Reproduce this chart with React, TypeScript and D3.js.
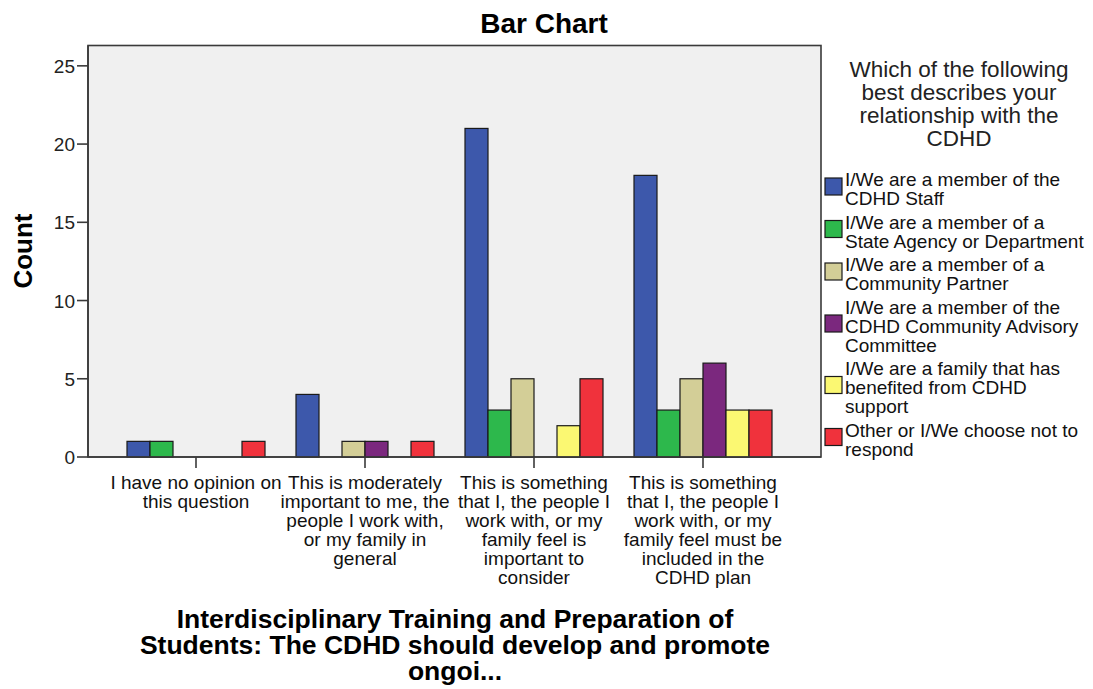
import React from "react";
import * as d3 from "d3";

const categories: string[][] = [
  ["I have no opinion on", "this question"],
  ["This is moderately", "important to me, the", "people I work with,", "or my family in", "general"],
  ["This is something", "that I, the people I", "work with, or my", "family feel is", "important to", "consider"],
  ["This is something", "that I, the people I", "work with, or my", "family feel must be", "included in the", "CDHD plan"],
];

const seriesNames: string[][] = [
  ["I/We are a member of the", "CDHD Staff"],
  ["I/We are a member of a", "State Agency or Department"],
  ["I/We are a member of a", "Community Partner"],
  ["I/We are a member of the", "CDHD Community Advisory", "Committee"],
  ["I/We are a family that has", "benefited from CDHD", "support"],
  ["Other or I/We choose not to", "respond"],
];

const cdhdStaff = [1, 4, 21, 18];
const stateAgency = [1, 0, 3, 3];
const communityPartner = [0, 1, 5, 5];
const advisoryCommittee = [0, 1, 0, 6];
const familyBenefited = [0, 0, 2, 3];
const otherNoResponse = [1, 1, 5, 3];

const seriesValues = [cdhdStaff, stateAgency, communityPartner, advisoryCommittee, familyBenefited, otherNoResponse];
const seriesColors = ["#3D58AB", "#2DB84C", "#D3CE97", "#7B287E", "#FBF872", "#F0323C"];

const yTicks = [0, 5, 10, 15, 20, 25];
const legendTitle = ["Which of the following", "best describes your", "relationship with the", "CDHD"];
const xTitle = ["Interdisciplinary Training and Preparation of", "Students: The CDHD should develop and promote", "ongoi..."];

const FONT = "'Liberation Sans', Arial, sans-serif";

export default function App() {
  const W = 1093, H = 689;
  const plotL = 88, plotR = 821, plotT = 45.5, plotB = 457;
  const catIdx = categories.map((_, i) => String(i));
  const x0 = d3.scaleBand<string>().domain(catIdx).range([111.5, 787.5]).paddingInner(0).paddingOuter(0);
  const groupW = 138;
  const x1 = d3.scaleBand<string>().domain(seriesValues.map((_, i) => String(i))).range([0, groupW]);
  const y = d3.scaleLinear().domain([0, 26.3]).range([plotB, plotT]);

  // legend layout
  const lineH = 19, itemGap = 23.5;
  let cur = 186;
  const legendItems = seriesNames.map((lines, i) => {
    const first = cur;
    const last = first + (lines.length - 1) * lineH;
    cur = last + itemGap;
    const center = (first - 14 + last) / 2 - 2;
    return { lines, first, center, color: seriesColors[i] };
  });

  return (
    <svg width={W} height={H} style={{ position: "absolute", left: 0, top: 0, display: "block", background: "#fff" }} fontFamily={FONT}>
      <rect x={0} y={0} width={W} height={H} fill="#ffffff" />
      <text x={544} y={33} textAnchor="middle" fontSize={28} fontWeight="bold" fill="#000">Bar Chart</text>
      {/* plot area */}
      <rect x={plotL} y={plotT} width={plotR - plotL} height={plotB - plotT} fill="#F0F0F0" stroke="#3a3a3a" strokeWidth={1.6} />
      {/* bars */}
      {seriesValues.map((vals, s) =>
        vals.map((v, c) =>
          v > 0 ? (
            <rect
              key={`${s}-${c}`}
              x={(x0(String(c)) as number) + (x0.bandwidth() - groupW) / 2 + (x1(String(s)) as number)}
              y={y(v)}
              width={x1.bandwidth()}
              height={y(0) - y(v)}
              fill={seriesColors[s]}
              stroke="#1a1a1a"
              strokeWidth={1.2}
            />
          ) : null
        )
      )}
      {/* axes lines */}
      <line x1={plotL} x2={plotR} y1={plotB} y2={plotB} stroke="#3a3a3a" strokeWidth={1.6} />
      <line x1={plotL} x2={plotL} y1={plotT} y2={plotB} stroke="#3a3a3a" strokeWidth={1.6} />
      {/* y ticks */}
      {yTicks.map((t) => (
        <g key={t}>
          <line x1={plotL - 11} x2={plotL} y1={y(t)} y2={y(t)} stroke="#3a3a3a" strokeWidth={1.6} />
          <text x={75} y={y(t) + 7} textAnchor="end" fontSize={19} fill="#222">{t}</text>
        </g>
      ))}
      <text transform={`translate(32,251) rotate(-90)`} textAnchor="middle" fontSize={26} fontWeight="bold" fill="#000">Count</text>
      {/* x ticks and labels */}
      {categories.map((lines, i) => {
        const cx = (x0(String(i)) as number) + x0.bandwidth() / 2;
        return (
          <g key={i}>
            <line x1={cx} x2={cx} y1={plotB} y2={plotB + 11} stroke="#3a3a3a" strokeWidth={1.6} />
            {lines.map((ln, j) => (
              <text key={j} x={cx} y={489 + j * 19} textAnchor="middle" fontSize={19} fill="#111">{ln}</text>
            ))}
          </g>
        );
      })}
      {/* x title */}
      {xTitle.map((ln, j) => (
        <text key={j} x={455} y={628 + j * 26} textAnchor="middle" fontSize={26.5} fontWeight="bold" fill="#000">{ln}</text>
      ))}
      {/* legend */}
      {legendTitle.map((ln, j) => (
        <text key={j} x={959} y={77 + j * 23} textAnchor="middle" fontSize={22.5} fill="#222">{ln}</text>
      ))}
      {legendItems.map((it, i) => (
        <g key={i}>
          <rect x={825} y={it.center - 8.5} width={17} height={17} fill={it.color} stroke="#1a1a1a" strokeWidth={1.2} />
          {it.lines.map((ln, j) => (
            <text key={j} x={845} y={it.first + j * lineH} fontSize={19} fill="#111">{ln}</text>
          ))}
        </g>
      ))}
    </svg>
  );
}
